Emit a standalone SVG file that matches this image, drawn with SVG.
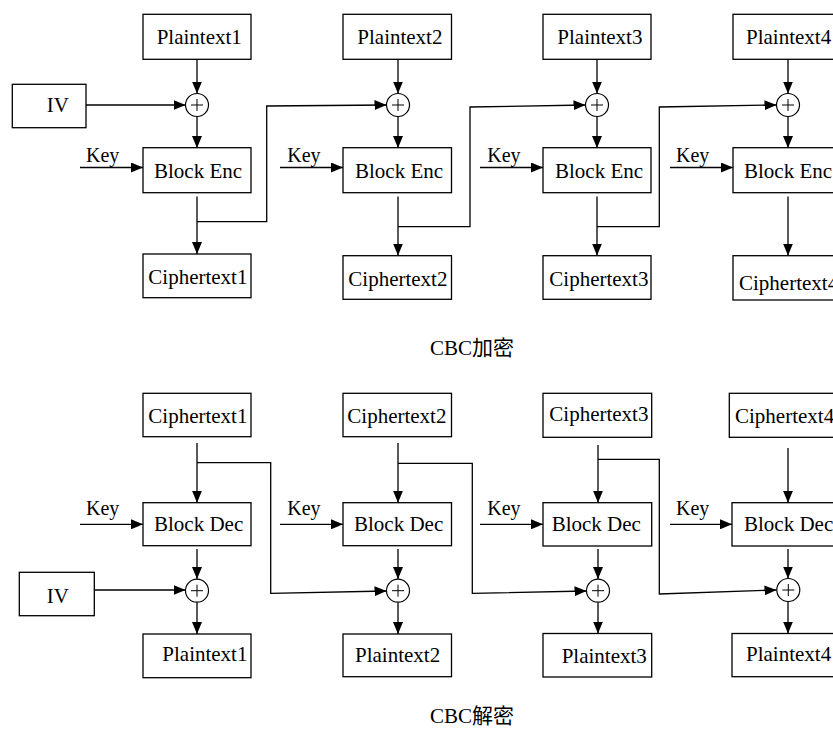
<svg xmlns="http://www.w3.org/2000/svg" width="833" height="732" viewBox="0 0 833 732">
<style>
.box{fill:#fff;stroke:#000;stroke-width:1.3}
.xor{fill:#fff;stroke:#000;stroke-width:1.2}
.pl{stroke:#000;stroke-width:1}
.ln{fill:none;stroke:#000;stroke-width:1.3}
.arr{fill:none;stroke:#000;stroke-width:1.3;marker-end:url(#ah)}
text{font-family:"Liberation Serif","Noto Sans CJK SC",serif;font-size:21px;fill:#000}
.key{font-size:20px}
</style>
<defs>
<marker id="ah" markerUnits="userSpaceOnUse" markerWidth="12" markerHeight="10" refX="12" refY="5" orient="auto">
<path d="M0,0 L12,5 L0,10 z" fill="#000"/>
</marker>
</defs>
<rect width="833" height="732" fill="#fff"/>

<g id="connectors">
<!-- top: plaintext to xor -->
<line class="arr" x1="197" y1="59" x2="197" y2="93.5"/>
<line class="arr" x1="398" y1="59" x2="398" y2="93.5"/>
<line class="arr" x1="597" y1="59" x2="597" y2="93.5"/>
<line class="arr" x1="788" y1="59" x2="788" y2="93.5"/>
<!-- xor to block enc -->
<line class="arr" x1="197" y1="116.5" x2="197" y2="148"/>
<line class="arr" x1="398" y1="116.5" x2="398" y2="148"/>
<line class="arr" x1="597" y1="116.5" x2="597" y2="148"/>
<line class="arr" x1="788" y1="116.5" x2="788" y2="148"/>
<!-- IV top -->
<line class="arr" x1="86" y1="105" x2="185.5" y2="105"/>
<!-- keys top -->
<line class="arr" x1="80" y1="167.5" x2="143" y2="167.5"/>
<line class="arr" x1="280" y1="167.5" x2="343" y2="167.5"/>
<line class="arr" x1="480" y1="167.5" x2="543" y2="167.5"/>
<line class="arr" x1="670" y1="167.5" x2="733" y2="167.5"/>
<!-- block enc to ciphertext -->
<line class="arr" x1="197" y1="196.5" x2="197" y2="254"/>
<line class="arr" x1="398" y1="196.5" x2="398" y2="255.5"/>
<line class="arr" x1="597" y1="196.5" x2="597" y2="255.5"/>
<line class="arr" x1="788" y1="196.5" x2="788" y2="255.5"/>
<!-- chaining top -->
<polyline class="arr" points="197,221.7 266.7,221.7 266.7,106 386.5,105"/>
<polyline class="arr" points="398,226.7 470,226.7 470,107 585.5,105"/>
<polyline class="arr" points="597,226.7 659.3,226.7 659.3,107 776.5,105"/>

<!-- bottom: ciphertext to block dec -->
<line class="arr" x1="197" y1="443" x2="197" y2="502.7"/>
<line class="arr" x1="398" y1="443" x2="398" y2="502.7"/>
<line class="arr" x1="598" y1="445" x2="598" y2="502.7"/>
<line class="arr" x1="788" y1="448" x2="788" y2="502.7"/>
<!-- keys bottom -->
<line class="arr" x1="80" y1="524.3" x2="143" y2="524.3"/>
<line class="arr" x1="280" y1="524.3" x2="343" y2="524.3"/>
<line class="arr" x1="480" y1="524.3" x2="543" y2="524.3"/>
<line class="arr" x1="670" y1="524.3" x2="732" y2="524.3"/>
<!-- block dec to xor -->
<line class="arr" x1="197" y1="549" x2="197" y2="579"/>
<line class="arr" x1="398" y1="549" x2="398" y2="579"/>
<line class="arr" x1="598" y1="549" x2="598" y2="579"/>
<line class="arr" x1="788" y1="549" x2="788" y2="578.5"/>
<!-- xor to plaintext -->
<line class="arr" x1="197" y1="602.2" x2="197" y2="634"/>
<line class="arr" x1="398" y1="602.2" x2="398" y2="634"/>
<line class="arr" x1="598" y1="602.2" x2="598" y2="633.5"/>
<line class="arr" x1="788" y1="601.5" x2="788" y2="633.5"/>
<!-- IV bottom -->
<line class="arr" x1="94.3" y1="590" x2="185.5" y2="590"/>
<!-- chaining bottom -->
<polyline class="arr" points="197,462.7 270.7,462.7 270.7,593.3 386.5,591"/>
<polyline class="arr" points="398,463.3 472.3,463.3 472.3,593.3 586.5,591"/>
<polyline class="arr" points="598,459.3 659.3,459.3 659.3,594 776.5,590"/>
</g>

<!-- ===== Encryption ===== -->
<g id="enc-iv"><rect class="box" x="12.3" y="84.3" width="73.7" height="43.4"/><text x="46.7" y="111.7" font-size="20">IV</text></g>

<g id="enc-p1"><rect class="box" x="143" y="14.3" width="108" height="45"/><text x="156.7" y="44.3">Plaintext1</text></g>
<g id="enc-p2"><rect class="box" x="343" y="14.3" width="108.5" height="45"/><text x="357.3" y="44.3">Plaintext2</text></g>
<g id="enc-p3"><rect class="box" x="543" y="14.3" width="108" height="45"/><text x="557.3" y="44.3">Plaintext3</text></g>
<g id="enc-p4"><rect class="box" x="733" y="14.3" width="108" height="45"/><text x="746" y="44.3">Plaintext4</text></g>

<g id="enc-x1"><circle class="xor" cx="197" cy="105" r="11.5"/><path class="pl" d="M191,105 H203 M197,99 V111"/></g>
<g id="enc-x2"><circle class="xor" cx="398" cy="105" r="11.5"/><path class="pl" d="M392,105 H404 M398,99 V111"/></g>
<g id="enc-x3"><circle class="xor" cx="597" cy="105" r="11.5"/><path class="pl" d="M591,105 H603 M597,99 V111"/></g>
<g id="enc-x4"><circle class="xor" cx="788" cy="105" r="11.5"/><path class="pl" d="M782,105 H794 M788,99 V111"/></g>

<g id="enc-k1"><text class="key" x="86" y="161.7">Key</text></g>
<g id="enc-k2"><text class="key" x="287.3" y="161.7">Key</text></g>
<g id="enc-k3"><text class="key" x="487.3" y="161.7">Key</text></g>
<g id="enc-k4"><text class="key" x="676" y="161.7">Key</text></g>

<g id="enc-b1"><rect class="box" x="143" y="147.7" width="108" height="45"/><text x="154" y="178.3">Block Enc</text></g>
<g id="enc-b2"><rect class="box" x="343" y="147.7" width="108.5" height="45"/><text x="355" y="178.3">Block Enc</text></g>
<g id="enc-b3"><rect class="box" x="543" y="147.7" width="108" height="45"/><text x="555" y="178.3">Block Enc</text></g>
<g id="enc-b4"><rect class="box" x="733" y="147.7" width="108" height="45"/><text x="744" y="178.3">Block Enc</text></g>

<g id="enc-c1"><rect class="box" x="143" y="254" width="108" height="43.7"/><text x="148.3" y="284.3">Ciphertext1</text></g>
<g id="enc-c2"><rect class="box" x="343" y="255.7" width="108.5" height="43.6"/><text x="348.3" y="285.8">Ciphertext2</text></g>
<g id="enc-c3"><rect class="box" x="543" y="255.7" width="108" height="43.6"/><text x="549.3" y="285.8">Ciphertext3</text></g>
<g id="enc-c4"><rect class="box" x="733" y="255.7" width="108" height="44.3"/><text x="739" y="290">Ciphertext4</text></g>

<g id="cap-enc"><text x="430" y="355">CBC加密</text></g>

<!-- ===== Decryption ===== -->
<g id="dec-c1"><rect class="box" x="143" y="393.3" width="108" height="43.4"/><text x="148.3" y="422.7">Ciphertext1</text></g>
<g id="dec-c2"><rect class="box" x="343" y="393.3" width="108.5" height="43.4"/><text x="347.3" y="422.7">Ciphertext2</text></g>
<g id="dec-c3"><rect class="box" x="543" y="393.3" width="108.7" height="44"/><text x="549.3" y="420.5">Ciphertext3</text></g>
<g id="dec-c4"><rect class="box" x="729.3" y="393.3" width="112" height="44"/><text x="735" y="422.7">Ciphertext4</text></g>

<g id="dec-k1"><text class="key" x="86" y="515">Key</text></g>
<g id="dec-k2"><text class="key" x="287.3" y="515">Key</text></g>
<g id="dec-k3"><text class="key" x="487.3" y="515">Key</text></g>
<g id="dec-k4"><text class="key" x="676" y="515">Key</text></g>

<g id="dec-b1"><rect class="box" x="143" y="502.7" width="108" height="43"/><text x="154" y="530.7">Block Dec</text></g>
<g id="dec-b2"><rect class="box" x="343" y="502.7" width="108.5" height="43"/><text x="354" y="530.7">Block Dec</text></g>
<g id="dec-b3"><rect class="box" x="543" y="502.7" width="108.7" height="43.3"/><text x="551.7" y="530.7">Block Dec</text></g>
<g id="dec-b4"><rect class="box" x="732" y="502.7" width="110" height="43.3"/><text x="744" y="530.7">Block Dec</text></g>

<g id="dec-iv"><rect class="box" x="19.3" y="572.3" width="75" height="43.4"/><text x="46.7" y="602.7" font-size="20">IV</text></g>

<g id="dec-x1"><circle class="xor" cx="197" cy="590.7" r="11.5"/><path class="pl" d="M191,590.7 H203 M197,584.7 V596.7"/></g>
<g id="dec-x2"><circle class="xor" cx="398" cy="590.7" r="11.5"/><path class="pl" d="M392,590.7 H404 M398,584.7 V596.7"/></g>
<g id="dec-x3"><circle class="xor" cx="598" cy="590.7" r="11.5"/><path class="pl" d="M592,590.7 H604 M598,584.7 V596.7"/></g>
<g id="dec-x4"><circle class="xor" cx="788.3" cy="590" r="11.5"/><path class="pl" d="M782.3,590 H794.3 M788.3,584 V596"/></g>

<g id="dec-p1"><rect class="box" x="143" y="634" width="108" height="43.7"/><text x="162.3" y="661">Plaintext1</text></g>
<g id="dec-p2"><rect class="box" x="343" y="634" width="108.5" height="42.7"/><text x="355" y="661.7">Plaintext2</text></g>
<g id="dec-p3"><rect class="box" x="543" y="633.5" width="108.7" height="43.5"/><text x="561.7" y="662.7">Plaintext3</text></g>
<g id="dec-p4"><rect class="box" x="732" y="633.5" width="110" height="43.2"/><text x="746" y="661">Plaintext4</text></g>

<g id="cap-dec"><text x="430" y="723">CBC解密</text></g>
</svg>
